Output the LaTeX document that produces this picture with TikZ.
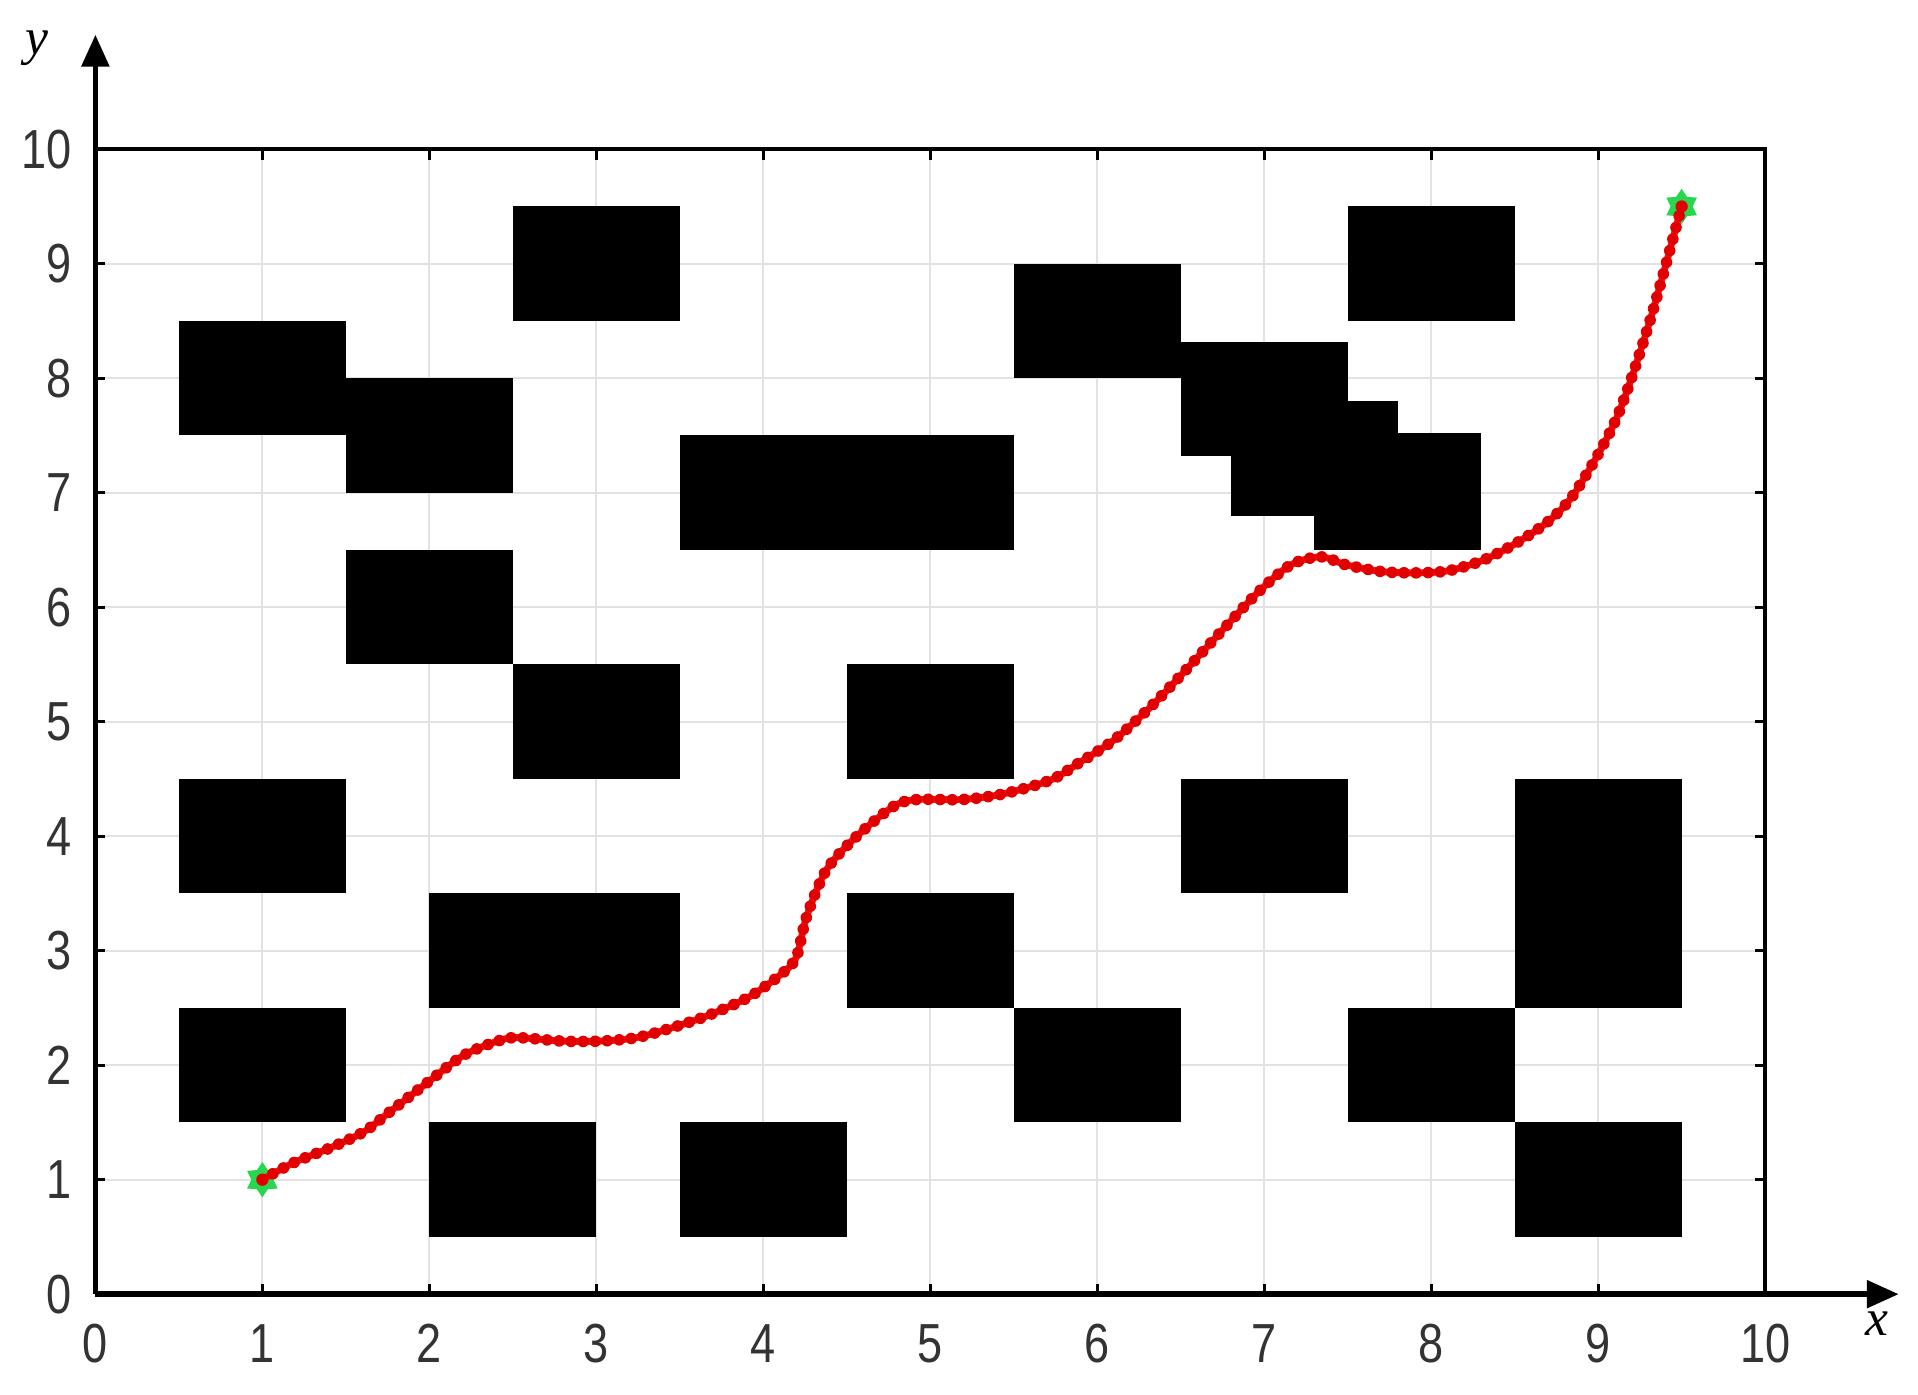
\documentclass[tikz,border=0pt]{standalone}
\usepackage{fontspec}
\setmainfont{Liberation Sans}
\newfontfamily\serifit{Liberation Serif}
\usetikzlibrary{arrows.meta,shapes.geometric}
\definecolor{gridgray}{RGB}{226,226,226}
\definecolor{pathred}{RGB}{255,20,20}
\definecolor{dotred}{RGB}{225,0,0}
\definecolor{stargreen}{RGB}{40,215,80}
\tikzset{
  gridline/.style={gridgray, line width=0.5pt},
  obst/.style={fill=black},
  axisline/.style={line width=1.3pt, -{Triangle[length=0.26cm,width=0.22cm]}},
  frameline/.style={line width=0.9pt},
  tickline/.style={line width=0.7pt},
  ticklab/.style={font=\fontsize{12.8}{14}\selectfont, xscale=0.82, inner sep=0pt, text=black!80},
  axlab/.style={font=\serifit\itshape\fontsize{12}{14}\selectfont, inner sep=0pt},
  mark6/.style={star, star points=6, star point ratio=1.6, minimum size=0.27cm, inner sep=0pt, fill=stargreen, draw=stargreen, line width=0.3pt},
  pathline/.style={pathred, line width=1.6pt},
  pathdots/.style={dotred, line width=2.7pt, line cap=round, dash pattern=on 0pt off 2.8pt},
}
\begin{document}
\begin{tikzpicture}[x=1.365cm,y=0.936cm]
\useasboundingbox (-0.5714,-0.8761) rectangle (10.9158,11.3034);
% grid
\foreach \i in {1,...,9} {
  \draw[gridline] (\i,0) -- (\i,10);
  \draw[gridline] (0,\i) -- (10,\i);
}
% obstacles
\fill[obst] (0.5,7.5) rectangle (1.5,8.5);
\fill[obst] (1.5,7) rectangle (2.5,8);
\fill[obst] (2.5,8.5) rectangle (3.5,9.5);
\fill[obst] (3.5,6.5) rectangle (5.5,7.5);
\fill[obst] (1.5,5.5) rectangle (2.5,6.5);
\fill[obst] (2.5,4.5) rectangle (3.5,5.5);
\fill[obst] (4.5,4.5) rectangle (5.5,5.5);
\fill[obst] (0.5,3.5) rectangle (1.5,4.5);
\fill[obst] (2,2.5) rectangle (3.5,3.5);
\fill[obst] (0.5,1.5) rectangle (1.5,2.5);
\fill[obst] (2,0.5) rectangle (3,1.5);
\fill[obst] (3.5,0.5) rectangle (4.5,1.5);
\fill[obst] (4.5,2.5) rectangle (5.5,3.5);
\fill[obst] (5.5,1.5) rectangle (6.5,2.5);
\fill[obst] (6.5,3.5) rectangle (7.5,4.5);
\fill[obst] (8.5,2.5) rectangle (9.5,4.5);
\fill[obst] (7.5,1.5) rectangle (8.5,2.5);
\fill[obst] (8.5,0.5) rectangle (9.5,1.5);
\fill[obst] (5.5,8) rectangle (6.5,9);
\fill[obst] (7.5,8.5) rectangle (8.5,9.5);
\fill[obst] (6.5,7.32) rectangle (7.5,8.32);
\fill[obst] (6.8,6.8) rectangle (7.8,7.8);
\fill[obst] (7.3,6.5) rectangle (8.3,7.52);
% frame
\draw[frameline] (0,10) -- (10,10) -- (10,0);
\foreach \i in {1,...,9} {
  \draw[tickline] (\i,0) -- (\i,0.09);
  \draw[tickline] (\i,10) -- (\i,9.91);
  \draw[tickline] (0,\i) -- (0.06,\i);
  \draw[tickline] (10,\i) -- (9.94,\i);
}
% axes
\coordinate (o) at (0,0);
\coordinate (ytip) at (0,11.0);
\coordinate (xtip) at (10.80,0);
\draw[axisline] (o) -- (ytip);
\draw[axisline] (o) -- (xtip);
% tick labels
\foreach \i in {0,...,10} {
  \node[ticklab] (xl\i) at (\i,-0.43) {\i};
  \node[ticklab, anchor=east] (yl\i) at (-0.14,\i) {\i};
}
\node[axlab] (ylab) at (-0.35,10.88) {y};
\node[axlab] (xlab) at (10.67,-0.26) {x};
% path
\node[mark6] (start) at (1,1) {};
\node[mark6] (goal) at (9.5,9.5) {};
\def\pathpts{(start.center) (1.19,1.15) (1.41,1.28) (1.61,1.42) (1.77,1.60) (1.99,1.85) (2.21,2.09) (2.43,2.22) (2.54,2.24) (2.80,2.21) (3.02,2.21) (3.24,2.24) (3.46,2.33) (3.68,2.44) (3.92,2.60) (4.12,2.81) (4.20,2.95) (4.26,3.30) (4.38,3.71) (4.56,4.00) (4.78,4.26) (4.92,4.32) (5.19,4.32) (5.44,4.37) (5.72,4.49) (5.88,4.63) (6.10,4.84) (6.32,5.13) (6.53,5.45) (6.75,5.80) (6.97,6.14) (7.16,6.37) (7.34,6.44) (7.49,6.37) (7.71,6.31) (7.93,6.30) (8.11,6.32) (8.31,6.41) (8.51,6.56) (8.71,6.76) (8.87,7.02) (9.11,7.65) (9.31,8.50) (goal.center)}
\draw[pathline] plot[smooth, tension=0.5] coordinates {\pathpts};
\draw[pathdots] plot[smooth, tension=0.5] coordinates {\pathpts};
\fill[dotred] (start.center) circle (0.05cm);
\fill[dotred] (goal.center) circle (0.05cm);
\end{tikzpicture}
\end{document}
